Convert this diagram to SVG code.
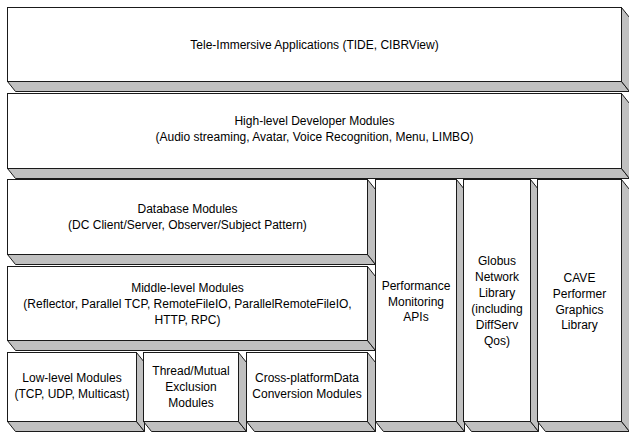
<svg xmlns="http://www.w3.org/2000/svg" width="629" height="434" viewBox="0 0 629 434">
<style>
.f{fill:#fff;stroke:#1a1a1a;stroke-width:1}
.s{fill:#c0c0c0;stroke:#1a1a1a;stroke-width:1}
text{font-family:"Liberation Sans",Arial,sans-serif;font-size:12px;fill:#000;text-anchor:middle}
</style>
<rect width="629" height="434" fill="#fff"/>
<g id="tele-immersive">
<polygon class="s" points="7.5,81.5 621.5,81.5 629.5,91.5 15.5,91.5"/>
<polygon class="s" points="621.5,7.5 629.5,17.5 629.5,91.5 621.5,81.5"/>
<rect class="f" x="7.5" y="7.5" width="614" height="74"/>
<text x="314.5" y="48.5">Tele-Immersive Applications (TIDE, CIBRView)</text>
</g>
<g id="high-level">
<polygon class="s" points="7.5,168.5 621.5,168.5 629.5,178.5 15.5,178.5"/>
<polygon class="s" points="621.5,93.5 629.5,103.5 629.5,178.5 621.5,168.5"/>
<rect class="f" x="7.5" y="93.5" width="614" height="75"/>
<text x="314.5" y="124.5">High-level Developer Modules</text>
<text x="314.5" y="140.5">(Audio streaming, Avatar, Voice Recognition, Menu, LIMBO)</text>
</g>
<g id="database">
<polygon class="s" points="7.5,254.5 367.5,254.5 375.5,264.5 15.5,264.5"/>
<polygon class="s" points="367.5,179.5 375.5,189.5 375.5,264.5 367.5,254.5"/>
<rect class="f" x="7.5" y="179.5" width="360" height="75"/>
<text x="187.5" y="212.5">Database Modules</text>
<text x="187.5" y="228.5">(DC Client/Server, Observer/Subject Pattern)</text>
</g>
<g id="middle-level">
<polygon class="s" points="7.5,340.5 367.5,340.5 375.5,350.5 15.5,350.5"/>
<polygon class="s" points="367.5,266.5 375.5,276.5 375.5,350.5 367.5,340.5"/>
<rect class="f" x="7.5" y="266.5" width="360" height="74"/>
<text x="187.5" y="291.5">Middle-level Modules</text>
<text x="187.5" y="307.5">(Reflector, Parallel TCP, RemoteFileIO, ParallelRemoteFileIO,</text>
<text x="187.5" y="323.5">HTTP, RPC)</text>
</g>
<g id="low-level">
<polygon class="s" points="7.5,421.5 136.5,421.5 144.5,431.5 15.5,431.5"/>
<polygon class="s" points="136.5,352.5 144.5,362.5 144.5,431.5 136.5,421.5"/>
<rect class="f" x="7.5" y="352.5" width="129" height="69"/>
<text x="72" y="382">Low-level Modules</text>
<text x="72" y="398">(TCP, UDP, Multicast)</text>
</g>
<g id="thread">
<polygon class="s" points="143.5,421.5 238.5,421.5 246.5,431.5 151.5,431.5"/>
<polygon class="s" points="238.5,352.5 246.5,362.5 246.5,431.5 238.5,421.5"/>
<rect class="f" x="143.5" y="352.5" width="95" height="69"/>
<text x="191" y="375">Thread/Mutual</text>
<text x="191" y="391">Exclusion</text>
<text x="191" y="407">Modules</text>
</g>
<g id="cross-platform">
<polygon class="s" points="246.5,421.5 367.5,421.5 375.5,431.5 254.5,431.5"/>
<polygon class="s" points="367.5,352.5 375.5,362.5 375.5,431.5 367.5,421.5"/>
<rect class="f" x="246.5" y="352.5" width="121" height="69"/>
<text x="307" y="382">Cross-platformData</text>
<text x="307" y="398">Conversion Modules</text>
</g>
<g id="performance">
<polygon class="s" points="375.5,421.5 456.5,421.5 464.5,431.5 383.5,431.5"/>
<polygon class="s" points="456.5,179.5 464.5,189.5 464.5,431.5 456.5,421.5"/>
<rect class="f" x="375.5" y="179.5" width="81" height="242"/>
<text x="416" y="289.5">Performance</text>
<text x="416" y="305.5">Monitoring</text>
<text x="416" y="321">APIs</text>
</g>
<g id="globus">
<polygon class="s" points="463.5,421.5 530.5,421.5 538.5,431.5 471.5,431.5"/>
<polygon class="s" points="530.5,179.5 538.5,189.5 538.5,431.5 530.5,421.5"/>
<rect class="f" x="463.5" y="179.5" width="67" height="242"/>
<text x="497" y="265">Globus</text>
<text x="497" y="281">Network</text>
<text x="497" y="297">Library</text>
<text x="497" y="313">(including</text>
<text x="497" y="329">DiffServ</text>
<text x="497" y="345">Qos)</text>
</g>
<g id="cave">
<polygon class="s" points="537.5,421.5 621.5,421.5 629.5,431.5 545.5,431.5"/>
<polygon class="s" points="621.5,179.5 629.5,189.5 629.5,431.5 621.5,421.5"/>
<rect class="f" x="537.5" y="179.5" width="84" height="242"/>
<text x="579.5" y="282">CAVE</text>
<text x="579.5" y="297.5">Performer</text>
<text x="579.5" y="313.5">Graphics</text>
<text x="579.5" y="329">Library</text>
</g>
<g id="connectors"/>
</svg>
